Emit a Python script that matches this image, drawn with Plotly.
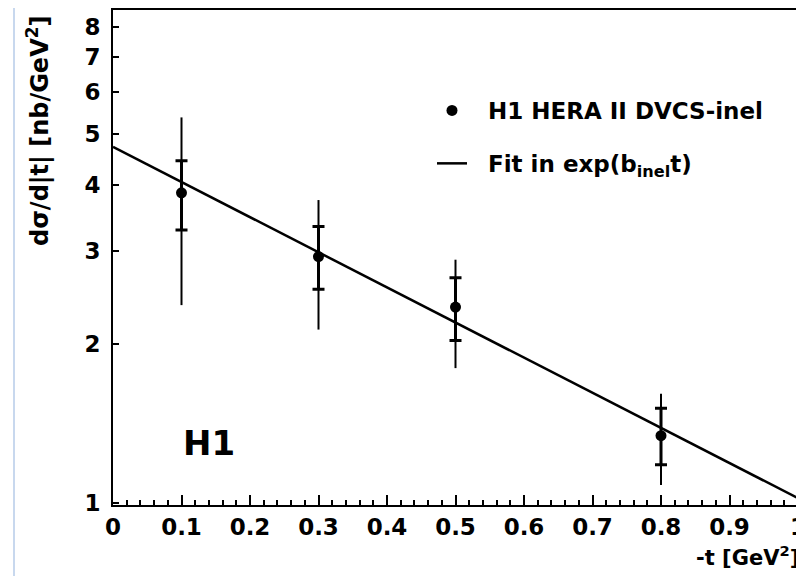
import plotly.graph_objects as go
import numpy as np

# data
t_vals = [0.1, 0.3, 0.5, 0.8]
xsec = [3.87, 2.93, 2.35, 1.34]
stat_up = [4.45, 3.34, 2.67, 1.51]
stat_lo = [3.29, 2.54, 2.03, 1.18]
tot_up = [5.38, 3.75, 2.89, 1.61]
tot_lo = [2.37, 2.13, 1.80, 1.08]
fit_t = [0.0, 1.0]
fit_vals = [4.73, 1.02]

x_ticks = [0, 0.1, 0.2, 0.3, 0.4, 0.5, 0.6, 0.7, 0.8, 0.9, 1]
x_ticktext = ["0", "0.1", "0.2", "0.3", "0.4", "0.5", "0.6", "0.7", "0.8", "0.9", "1"]
y_ticks = [1, 2, 3, 4, 5, 6, 7, 8]

FONT = "DejaVu Sans"
BLACK = "#000000"

fig = go.Figure()

# total error bars
fig.add_trace(go.Scatter(
    x=t_vals, y=xsec, mode="markers",
    marker=dict(size=1, color="rgba(0,0,0,0)"),
    error_y=dict(type="data", symmetric=False,
                 array=[u - v for u, v in zip(tot_up, xsec)],
                 arrayminus=[v - l for l, v in zip(tot_lo, xsec)],
                 color=BLACK, thickness=2, width=0),
    showlegend=False, hoverinfo="skip"))
# stat error bars
fig.add_trace(go.Scatter(
    x=t_vals, y=xsec, mode="markers",
    marker=dict(size=1, color="rgba(0,0,0,0)"),
    error_y=dict(type="data", symmetric=False,
                 array=[u - v for u, v in zip(stat_up, xsec)],
                 arrayminus=[v - l for l, v in zip(stat_lo, xsec)],
                 color=BLACK, thickness=3, width=6),
    showlegend=False, hoverinfo="skip"))
# data points
fig.add_trace(go.Scatter(
    x=t_vals, y=xsec, mode="markers",
    marker=dict(size=11, color=BLACK),
    name="\u00a0\u00a0H1 HERA II DVCS-inel", legendgroup="a"))
# fit line
fig.add_trace(go.Scatter(
    x=fit_t, y=fit_vals, mode="lines",
    line=dict(color=BLACK, width=2.5),
    name="\u00a0\u00a0Fit in exp(b<sub>inel</sub>t)", legendgroup="b"))

fig.update_layout(
    width=804, height=576,
    margin=dict(l=105, r=14, t=2, b=79, autoexpand=False),
    paper_bgcolor="white", plot_bgcolor="white",
    font=dict(family=FONT, size=23, color=BLACK, weight="bold"),
    showlegend=True,
    legend=dict(x=(432 - 113) / 685, y=(505 - 89) / 495, xanchor="left", yanchor="top",
                bgcolor="rgba(0,0,0,0)", traceorder="grouped", tracegroupgap=20,
                font=dict(family=FONT, size=23, color=BLACK, weight="bold")),
)

fig.update_xaxes(
    range=[0, 1], showgrid=False, zeroline=False, automargin=False,
    showline=True, linecolor=BLACK, linewidth=2, mirror=True,
    ticks="inside", ticklen=10, tickwidth=1.5, tickcolor=BLACK,
    tickvals=x_ticks, ticktext=x_ticktext,
    minor=dict(dtick=0.02, ticks="inside", ticklen=5, tickwidth=1.5, tickcolor=BLACK),
    tickfont=dict(family=FONT, size=23, color=BLACK, weight="bold"),
)
fig.update_yaxes(
    type="log", range=[np.log10(0.99), np.log10(8.6)],
    showgrid=False, zeroline=False, automargin=False,
    showline=True, linecolor=BLACK, linewidth=2, mirror=True,
    ticks="inside", ticklen=6, tickwidth=1.5, tickcolor=BLACK,
    tickvals=y_ticks, ticktext=[str(v) for v in y_ticks],
    ticklabelstandoff=6,
    tickfont=dict(family=FONT, size=23, color=BLACK, weight="bold"),
)

fig.add_annotation(
    text="d\u03c3/d|t| [nb/GeV<sup>2</sup>]", textangle=-90,
    xref="paper", yref="paper", x=(38 - 113) / 685, y=(505 - 131) / 495,
    xanchor="center", yanchor="middle", showarrow=False,
    font=dict(family=FONT, size=24, color=BLACK, weight="bold"))
fig.add_annotation(
    text="-t [GeV<sup>2</sup>]",
    xref="paper", yref="paper", x=(801 - 113) / 685, y=(505 - 556) / 495,
    xanchor="right", yanchor="middle", showarrow=False,
    font=dict(family=FONT, size=21, color=BLACK, weight="bold"))
fig.add_annotation(
    text="H1",
    xref="paper", yref="paper", x=(209 - 113) / 685, y=(505 - 443) / 495,
    xanchor="center", yanchor="middle", showarrow=False,
    font=dict(family=FONT, size=34, color=BLACK, weight="bold"))

fig.add_shape(type="line", xref="paper", yref="paper",
              x0=(14 - 113) / 685, x1=(14 - 113) / 685,
              y0=(505 - 0) / 495, y1=(505 - 576) / 495,
              line=dict(color="#c8d8ee", width=2))

fig.write_html("out.html")
